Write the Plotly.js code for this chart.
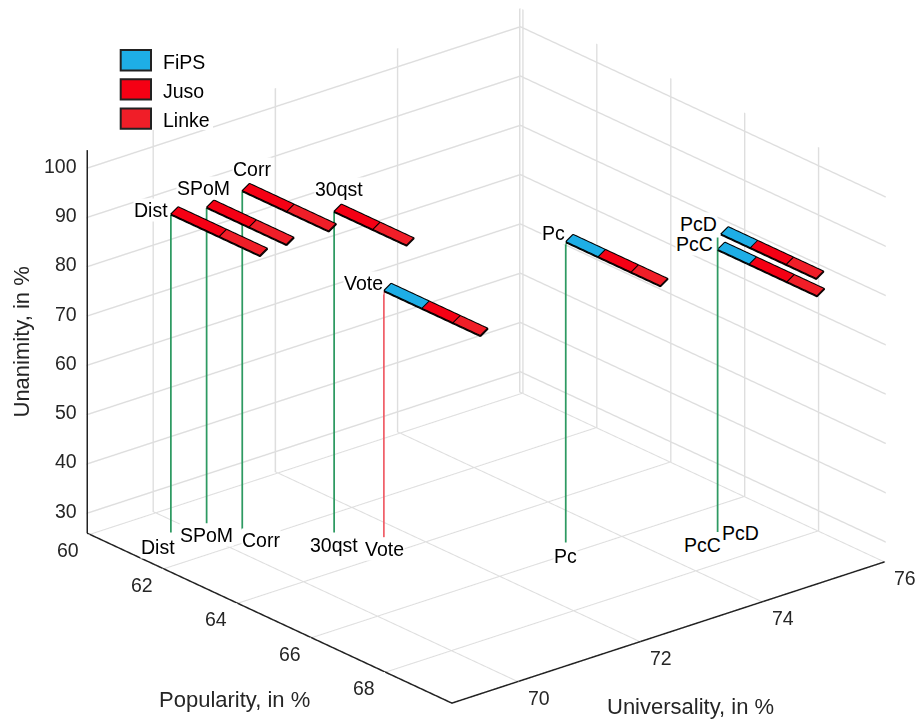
<!DOCTYPE html>
<html><head><meta charset="utf-8"><script src="https://cdn.plot.ly/plotly-3.0.1.min.js"></script>
<style>html,body{margin:0;padding:0;background:#fff}#p{width:917px;height:719px}</style></head>
<body><div id="p"></div><script>
const names=['Dist','SPoM','Corr','30qst','Vote','Pc','PcC','PcD'];
const popularity=[60.84,60.93,61.53,62.66,63.38,65.59,66.92,66.96];
const universality=[69.74,70.27,70.49,71.31,71.69,73.33,75.01,75.04];
const unanimity=[90.44,89.98,94.56,90.99,75.9,86.91,83.18,86.34];
const stemPop=[60.84,60.93,61.53,62.66,63.38,65.59,66.92,66.92];
const stemUni=[69.74,70.27,70.49,71.31,71.69,73.33,75.01,75.01];
const stemTop=[90.44,89.98,94.56,90.99,75.9,86.91,83.18,85.72];
const fips=[0,0,0,0,1.03,0.88,0.86,0.80];
const juso=[1.31,1.15,1.21,1.05,0.84,0.89,1.02,0.97];
const linke=[1.10,1.01,1.13,0.91,0.74,0.79,0.81,0.81];
const stemColors=['#2e9a62','#2e9a62','#2e9a62','#2e9a62','#f0606a','#2e9a62','#2e9a62','#2e9a62'];
const popTicks=[60,62,64,66,68], uniTicks=[70,72,74,76], zTicks=[30,40,50,60,70,80,90,100];
const popRange=[59.93,69.816], uniRange=[68.905,76.01], zRange=[25.94,103.75];
const du=0.12,dz=1.0,eps=0.01;
const seriesInfo=[['FiPS','#1eaee6',fips],['Juso','#f50014',juso],['Linke','#f01e28',linke]];
const traces=[];
names.forEach((n,i)=>traces.push({type:'scatter3d',mode:'lines',x:[stemPop[i],stemPop[i]],y:[stemUni[i],stemUni[i]],z:[zRange[0],stemTop[i]],line:{color:stemColors[i],width:3.5},showlegend:false,hoverinfo:'skip'}));
seriesInfo.forEach(([nm,col,vals],s)=>{
  let X=[],Y=[],Z=[],I=[],J=[],K=[],lx=[],ly=[],lz=[];
  names.forEach((n,i)=>{
    let start=popularity[i];
    for(let q=0;q<s;q++)start+=seriesInfo[q][2][i];
    const L=vals[i]; if(!L)return;
    const b=X.length,u=universality[i],z=unanimity[i],e=start+L;
    X.push(start,e,e,start);Y.push(u,u,u+du,u+du);Z.push(z,z,z+dz,z+dz);
    I.push(b,b);J.push(b+1,b+2);K.push(b+2,b+3);
    lx.push(start,e,e,start,start,null);ly.push(u,u,u+du,u+du,u,null);lz.push(z,z,z+dz,z+dz,z,null);
  });
  traces.push({type:'mesh3d',name:nm,x:X,y:Y,z:Z,i:I,j:J,k:K,color:col,flatshading:true,lighting:{ambient:1,diffuse:0,specular:0,roughness:1,fresnel:0},showlegend:false,showscale:false,hoverinfo:'skip'});
  traces.push({type:'scatter3d',mode:'lines',x:lx,y:ly,z:lz,line:{color:'#000',width:4},showlegend:false,hoverinfo:'skip'});
});
const ax0=popRange[0]+eps, ax1=popRange[1]-eps, uy0=uniRange[0]+eps, uy1=uniRange[1]-eps, zl=zRange[0]+0.05;
traces.push({type:'scatter3d',mode:'lines',x:[ax0,ax0,null,ax0,ax1,ax1],y:[uy0,uy0,null,uy0,uy0,uy1],z:[zl,zRange[1]-0.05,null,zl,zl,zl],line:{color:'#222',width:3},showlegend:false,hoverinfo:'skip'});
const ax={showgrid:true,gridcolor:'#dedede',gridwidth:3,showline:false,zeroline:false,showbackground:false,showspikes:false,ticks:'',showticklabels:false,title:{text:''},tickmode:'array'};
const fam='Liberation Sans, Arial, sans-serif';
const tf={family:fam,size:19.5,color:'#262626'};
const lf={family:fam,size:19.5,color:'#000'};
const ann=[];
popTicks.forEach(v=>ann.push({x:v,y:uniRange[0],z:zRange[0],text:String(v),showarrow:false,xshift:-21,yshift:-16,font:tf}));
uniTicks.forEach(v=>ann.push({x:popRange[1],y:v,z:zRange[0],text:String(v),showarrow:false,xshift:20,yshift:-16.5,font:tf}));
zTicks.forEach(v=>ann.push({x:ax0,y:uy0,z:v,text:String(v),showarrow:false,xanchor:'right',xshift:-9,yshift:2.5,font:tf}));
const topShift={Dist:[-20,4],SPoM:[-3,20],Corr:[10,22],'30qst':[5,23],Vote:[-21,8],Pc:[-12,9],PcC:[-23,6],PcD:[-22,10]};
const botShift={Dist:[-13,-15],SPoM:[0,-12],Corr:[19,-11],'30qst':[0,-13],Vote:[0,-12],Pc:[0,-14],PcC:[-15.5,-13],PcD:[20,-1]};
names.forEach((n,i)=>{
  ann.push({x:popularity[i],y:universality[i],z:unanimity[i],text:n,showarrow:false,xshift:topShift[n][0],yshift:topShift[n][1],font:lf,bgcolor:'#fff',borderpad:0});
  ann.push({x:popularity[i],y:universality[i],z:zRange[0],text:n,showarrow:false,xshift:botShift[n][0],yshift:botShift[n][1],font:lf,bgcolor:'#fff',borderpad:0});
});
const tt={family:fam,size:22,color:'#262626'};
const shapes=[{type:'rect',xref:'paper',yref:'paper',x0:100/917,x1:213/917,y0:1-130/719,y1:1-40/719,fillcolor:'#fff',line:{width:0}}];
const pa=(x,y,o)=>Object.assign({xref:'paper',yref:'paper',x:x/917,y:1-y/719,xanchor:'center',yanchor:'middle',showarrow:false},o);
const paperAnn=[
  pa(235,699,{text:'Popularity, in %',font:tt}),
  pa(690.5,706,{text:'Universality, in %',font:tt}),
  pa(21,342.5,{text:'Unanimity, in %',textangle:-90,font:tt})];
seriesInfo.forEach(([nm,col],s)=>{
  const top=50+s*29.2;
  shapes.push({type:'rect',xref:'paper',yref:'paper',x0:120.7/917,x1:151/917,y0:1-(top+20.4)/719,y1:1-top/719,fillcolor:col,line:{color:'#222',width:2}});
  paperAnn.push(pa(161,top+11.5,{xanchor:'left',text:nm,font:lf}));
});
const layout={width:917,height:719,margin:{l:0,r:0,t:0,b:0},paper_bgcolor:'#fff',showlegend:false,shapes:shapes,
 scene:{domain:{x:[0.0603,1],y:[0.0104,1]},aspectmode:'manual',aspectratio:{x:1.599,y:1.59,z:1.17},
  camera:{projection:{type:'orthographic'},eye:{x:0.84,y:-0.703,z:0.464},up:{x:0,y:0,z:1},center:{x:0,y:0,z:0}},
  xaxis:Object.assign({},ax,{range:popRange,tickvals:popTicks}),
  yaxis:Object.assign({},ax,{range:uniRange,tickvals:uniTicks}),
  zaxis:Object.assign({},ax,{range:zRange,tickvals:zTicks}),
  annotations:ann},
 annotations:paperAnn};
Plotly.newPlot('p',traces,layout,{displayModeBar:false});
</script></body></html>
